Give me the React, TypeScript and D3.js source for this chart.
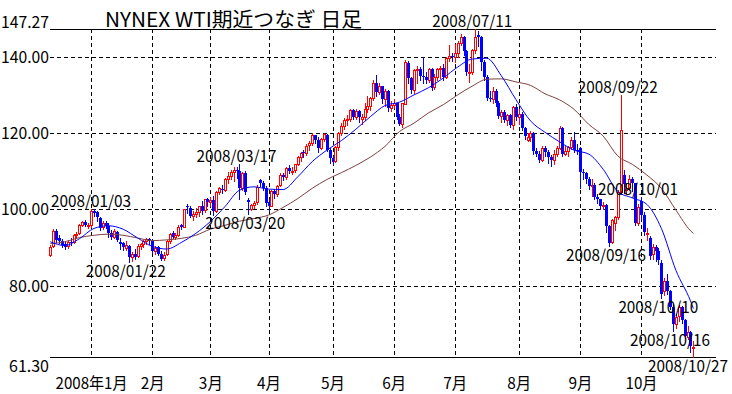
import * as d3 from "d3";

type Ohlc = [number, number, number, number]; // open, high, low, close

const WIDTH = 732;
const HEIGHT = 394;
const PLOT = { left: 50, right: 716, top: 29, bottom: 357 };
const FONT = "'Noto Sans CJK JP', 'DejaVu Sans', sans-serif";

const TITLE = "NYNEX WTI期近つなぎ 日足";
const Y_MAX = 147.27;
const Y_MIN = 61.3;
const Y_TICKS = [140, 120, 100, 80];

// daily candles, Dec 2007 .. Oct 2008
const dec07: Ohlc[] = [
  [88.0, 90.6, 87.7, 90.1], [90.5, 94.9, 90.2, 94.4], [94.3, 94.8, 91.4, 91.9], [92.4, 93.4, 91.2, 91.6],
  [91.8, 92.3, 90.2, 90.6], [90.9, 91.5, 89.6, 90.2], [90.3, 91.9, 89.9, 91.5], [91.5, 92.6, 90.6, 91.3],
  [91.4, 93.6, 91.2, 93.3], [93.2, 94.0, 92.6, 93.6], [93.8, 96.2, 93.5, 96.0], [96.0, 97.0, 95.6, 96.6],
  [96.7, 97.1, 95.6, 96.0], [95.8, 96.5, 95.0, 96.0],
];
const jan08: Ohlc[] = [
  [96.0, 100.0, 95.3, 99.6], [99.5, 100.09, 98.2, 99.0], [99.2, 99.6, 97.0, 97.9], [97.7, 98.0, 94.6, 95.1],
  [95.4, 97.0, 94.9, 96.3], [96.5, 97.0, 95.1, 95.7], [95.7, 96.4, 92.7, 93.7], [93.9, 94.6, 92.1, 92.7],
  [92.8, 94.8, 92.5, 94.2], [94.1, 94.4, 91.6, 91.9], [91.4, 92.4, 89.6, 90.8], [91.2, 91.5, 89.3, 90.1],
  [90.0, 91.7, 89.4, 90.6], [90.3, 90.6, 86.11, 87.4], [87.4, 88.9, 86.5, 88.2], [88.3, 89.5, 87.1, 87.6],
  [87.8, 90.8, 87.5, 90.5], [90.4, 91.2, 89.5, 90.9], [90.9, 92.0, 90.2, 91.6], [91.6, 92.6, 90.9, 92.3],
  [92.2, 92.6, 90.9, 91.7],
];
const feb08: Ohlc[] = [
  [91.6, 92.0, 88.5, 89.0], [89.2, 90.4, 88.4, 90.0], [90.1, 90.5, 88.0, 88.4], [88.4, 89.0, 86.8, 87.1],
  [87.2, 88.8, 86.8, 88.1], [88.2, 92.0, 88.0, 91.8], [91.8, 93.8, 91.2, 93.6], [93.7, 94.2, 92.5, 92.8],
  [92.8, 93.8, 92.2, 93.3], [93.3, 95.8, 93.0, 95.5], [95.9, 96.2, 94.8, 95.5], [95.5, 100.1, 95.3, 100.0],
  [100.9, 101.3, 99.0, 100.7], [100.4, 100.8, 97.9, 98.2], [98.3, 99.5, 97.2, 98.8], [98.8, 100.3, 98.0, 99.2],
  [99.2, 101.0, 98.2, 100.9], [101.0, 102.1, 98.8, 99.6], [99.7, 102.8, 99.4, 102.6], [102.6, 103.1, 101.0, 101.8],
];
const mar08: Ohlc[] = [
  [101.8, 103.2, 101.0, 102.5], [102.5, 103.6, 98.6, 99.5], [99.6, 104.7, 99.2, 104.5], [104.5, 105.9, 104.0, 105.5],
  [105.4, 106.5, 104.3, 105.2], [105.2, 108.2, 104.8, 107.9], [107.9, 109.7, 106.8, 108.8], [108.8, 110.2, 107.9, 109.9],
  [109.9, 111.0, 107.5, 110.3], [110.3, 111.1, 108.3, 110.2], [110.0, 111.8, 102.6, 105.7], [105.7, 109.7, 105.0, 109.4],
  [109.4, 110.0, 104.1, 104.5], [102.4, 103.0, 98.65, 101.8], [100.0, 101.5, 99.7, 101.2], [101.2, 102.3, 100.4, 101.6],
  [101.8, 106.3, 101.5, 105.9], [107.8, 108.0, 106.0, 107.0], [107.0, 107.4, 105.0, 105.6], [105.6, 106.2, 101.0, 101.6],
];
const apr08: Ohlc[] = [
  [101.8, 102.6, 99.6, 101.0], [101.0, 105.0, 100.8, 104.8], [104.8, 105.4, 103.0, 103.9], [103.9, 106.5, 103.6, 106.2],
  [106.3, 109.4, 106.0, 109.1], [109.1, 109.6, 107.6, 108.5], [108.6, 111.0, 108.0, 110.9], [110.9, 111.5, 109.6, 110.1],
  [109.8, 111.0, 109.2, 110.1], [110.2, 112.0, 109.8, 111.8], [111.9, 114.0, 111.5, 113.8], [113.8, 115.1, 112.8, 114.9],
  [115.0, 115.5, 113.6, 114.9], [114.9, 117.0, 114.2, 116.7], [116.8, 117.8, 115.5, 117.5], [117.4, 119.9, 116.8, 119.4],
  [119.4, 119.6, 117.4, 118.3], [118.2, 119.0, 115.0, 116.1], [116.1, 118.8, 115.8, 118.5], [118.5, 119.9, 117.9, 119.8],
  [119.6, 119.7, 115.4, 115.6], [115.6, 116.2, 112.1, 113.5],
];
const may08: Ohlc[] = [
  [113.4, 114.0, 111.8, 112.5], [112.6, 116.6, 112.4, 116.3], [116.3, 120.2, 115.5, 120.0], [120.0, 122.7, 119.6, 121.8],
  [121.9, 123.9, 121.0, 123.5], [123.5, 124.6, 122.0, 123.7], [123.8, 126.2, 123.1, 126.0], [126.0, 126.4, 123.6, 124.2],
  [124.2, 126.4, 123.8, 125.8], [125.8, 126.0, 123.0, 124.1], [123.8, 125.0, 122.5, 124.1], [124.2, 127.8, 123.5, 126.3],
  [126.3, 129.6, 125.5, 127.1], [127.1, 129.5, 126.0, 129.1], [129.1, 133.8, 128.6, 133.2], [133.2, 135.09, 129.6, 130.8],
  [130.8, 133.0, 130.2, 132.2], [132.2, 132.4, 127.8, 128.9], [128.9, 131.5, 127.0, 131.0], [131.0, 131.3, 125.8, 126.6],
  [126.6, 128.3, 125.9, 127.4],
];
const jun08: Ohlc[] = [
  [127.4, 129.0, 126.5, 127.8], [127.8, 128.0, 123.6, 124.3], [124.3, 125.0, 122.0, 122.3], [122.3, 128.0, 121.5, 127.8],
  [127.6, 139.1, 127.5, 138.5], [138.4, 139.0, 133.2, 134.4], [134.4, 134.8, 130.6, 131.3], [131.3, 136.8, 130.5, 136.4],
  [136.4, 137.6, 133.0, 136.7], [136.8, 137.2, 133.9, 134.9], [134.9, 139.9, 133.0, 134.6], [134.6, 136.0, 133.0, 134.0],
  [134.0, 137.0, 133.5, 136.7], [136.7, 137.0, 131.2, 131.9], [132.0, 135.5, 131.5, 134.6], [134.6, 137.0, 134.0, 136.7],
  [136.8, 137.5, 134.5, 137.0], [137.0, 138.0, 134.0, 134.6], [134.6, 140.0, 134.4, 139.6], [139.7, 142.99, 139.0, 140.2],
  [140.3, 141.0, 139.0, 140.0],
];
const jul08: Ohlc[] = [
  [140.0, 143.3, 138.6, 141.0], [141.0, 144.0, 140.0, 143.6], [143.6, 145.85, 143.0, 145.3], [145.3, 145.5, 140.5, 141.4],
  [141.4, 141.8, 135.1, 136.0], [136.0, 138.0, 133.5, 136.1], [136.1, 142.0, 135.5, 141.7], [141.7, 147.27, 141.0, 145.1],
  [145.6, 146.7, 142.9, 145.2], [145.2, 145.5, 136.5, 138.7], [138.7, 139.1, 133.8, 134.6], [134.6, 135.3, 128.6, 129.3],
  [129.3, 131.0, 128.3, 128.9], [128.9, 132.0, 128.0, 131.0], [131.0, 131.5, 127.0, 128.0], [128.0, 128.4, 123.9, 124.4],
  [124.4, 126.0, 123.0, 125.5], [125.5, 126.0, 122.8, 123.3], [123.3, 125.0, 122.0, 124.7], [124.7, 125.0, 121.6, 122.2],
  [122.2, 127.0, 121.0, 126.8], [126.8, 127.7, 123.5, 124.1],
];
const aug08: Ohlc[] = [
  [124.1, 126.3, 122.5, 125.1], [125.1, 125.4, 120.9, 121.4], [121.4, 121.6, 118.5, 119.2], [118.2, 120.0, 117.9, 118.9],
  [119.0, 120.5, 117.8, 120.0], [120.0, 120.4, 114.6, 115.2], [115.2, 116.0, 113.9, 114.5], [114.5, 115.2, 112.4, 113.0],
  [113.0, 116.5, 112.8, 116.0], [116.0, 116.5, 114.0, 115.0], [115.0, 115.5, 112.2, 113.8], [113.8, 114.2, 111.3, 112.9],
  [112.9, 115.5, 112.0, 114.5], [114.5, 116.5, 114.0, 116.0], [116.0, 121.8, 115.8, 121.2], [121.2, 121.5, 114.0, 114.6],
  [114.6, 116.5, 114.2, 115.2], [115.2, 116.7, 114.0, 116.3], [116.3, 119.0, 115.8, 118.2], [118.2, 120.4, 115.0, 115.6],
  [115.6, 117.0, 114.5, 115.5],
];
const sep08: Ohlc[] = [
  [116.0, 116.3, 105.5, 109.7], [109.7, 110.7, 108.0, 109.4], [109.4, 109.8, 106.8, 107.9], [107.9, 108.5, 105.4, 106.2],
  [106.0, 108.0, 103.5, 106.3], [106.3, 106.8, 102.6, 103.3], [103.3, 104.0, 101.7, 102.6], [102.6, 102.8, 100.1, 100.9],
  [100.9, 101.8, 100.0, 101.2], [101.2, 101.4, 94.1, 95.7], [95.7, 96.0, 90.51, 91.2], [91.5, 97.5, 91.2, 97.2],
  [96.5, 98.3, 94.5, 97.9], [98.0, 105.0, 97.6, 104.6], [104.6, 130.0, 104.0, 120.9], [109.0, 110.2, 104.3, 106.6],
  [105.0, 106.8, 104.0, 105.7], [105.7, 109.0, 105.0, 108.0], [108.0, 108.4, 104.8, 106.9], [106.9, 107.0, 95.9, 96.4],
  [96.4, 101.4, 95.8, 100.6],
];
const oct08: Ohlc[] = [
  [102.2, 103.2, 97.6, 98.5], [98.5, 99.3, 93.3, 94.0], [93.6, 95.1, 91.9, 93.9], [92.6, 92.9, 87.0, 87.8],
  [88.4, 91.0, 87.0, 90.1], [90.1, 90.6, 86.4, 89.0], [89.0, 90.0, 85.8, 86.6], [86.0, 86.6, 76.8, 77.7],
  [78.5, 82.0, 77.5, 81.2], [81.2, 83.0, 77.8, 78.6], [78.6, 78.9, 73.8, 74.5], [74.5, 75.3, 68.1, 69.9],
  [70.0, 72.5, 68.8, 71.9], [72.0, 75.0, 70.8, 74.3], [74.3, 74.6, 70.3, 70.9], [70.9, 71.2, 66.3, 66.8],
  [66.6, 69.3, 66.0, 67.8], [67.8, 68.0, 62.5, 64.2], [63.9, 65.6, 61.3, 64.0],
];

const MONTHS: { label: string; days: Ohlc[] }[] = [
  { label: "", days: dec07 },
  { label: "2008年1月", days: jan08 },
  { label: "2月", days: feb08 },
  { label: "3月", days: mar08 },
  { label: "4月", days: apr08 },
  { label: "5月", days: may08 },
  { label: "6月", days: jun08 },
  { label: "7月", days: jul08 },
  { label: "8月", days: aug08 },
  { label: "9月", days: sep08 },
  { label: "10月", days: oct08 },
];

const maSampleIdx = [
  0, 5, 10, 15, 20, 25, 30, 35, 40, 45, 50, 55, 60, 65, 70, 75, 80, 85, 90, 95, 100, 105, 110,
  115, 120, 125, 130, 135, 140, 145, 150, 155, 160, 165, 170, 175, 180, 185, 190, 195, 200, 205,
  210, 215, 220, 221,
];
const maShort = [
  91.5, 90.5, 92.3, 95.0, 95.7, 94.8, 92.5, 90.3, 89.6, 91.3, 93.7, 96.8, 100.7, 105.0, 105.9, 105.3,
  105.2, 108.5, 112.5, 115.5, 118.0, 121.0, 124.3, 127.2, 128.1, 130.0, 131.9, 134.4, 137.3, 139.4,
  139.6, 135.0, 128.8, 123.2, 120.2, 117.7, 115.5, 114.5, 110.5, 104.7, 103.0, 101.3, 95.0, 84.0,
  76.0, 74.0,
];
const maLong = [
  91.0, 91.5, 92.6, 93.2, 93.5, 93.2, 92.5, 91.8, 92.0, 92.4, 93.2, 94.8, 95.8, 96.9, 97.6, 98.5,
  100.5, 102.8, 105.5, 107.8, 109.6, 111.5, 113.7, 116.5, 120.4, 122.6, 125.3, 127.4, 130.0, 132.3,
  134.1, 134.2, 133.4, 132.5, 130.3, 128.7, 126.2, 122.3, 119.2, 114.0, 111.8, 109.0, 105.5, 99.8,
  94.4, 93.7,
];

const ANNOTATIONS: { idx: number; text: string; kind: "high" | "low" }[] = [
  { idx: 15, text: "2008/01/03", kind: "high" },
  { idx: 27, text: "2008/01/22", kind: "low" },
  { idx: 65, text: "2008/03/17", kind: "high" },
  { idx: 68, text: "2008/03/20", kind: "low" },
  { idx: 146, text: "2008/07/11", kind: "high" },
  { idx: 192, text: "2008/09/16", kind: "low" },
  { idx: 196, text: "2008/09/22", kind: "high" },
  { idx: 203, text: "2008/10/01", kind: "high" },
  { idx: 210, text: "2008/10/10", kind: "low" },
  { idx: 214, text: "2008/10/16", kind: "low" },
  { idx: 221, text: "2008/10/27", kind: "low" },
];

// gothic-style widths: half-width 8px, full-width 16px
const textWidth = (s: string) =>
  Array.from(s).reduce((w, ch) => w + (ch.charCodeAt(0) > 255 ? 16 : 8), 0);

export default function App() {
  const candles = MONTHS.flatMap((m) => m.days);
  const monthStarts: { idx: number; label: string }[] = [];
  let acc = 0;
  MONTHS.forEach((m) => {
    if (m.label) monthStarts.push({ idx: acc, label: m.label });
    acc += m.days.length;
  });
  const last = candles.length - 1;

  const x = d3.scaleLinear().domain([0, last]).range([50.3, 693.4]);
  const y = d3.scaleLinear().domain([Y_MIN, Y_MAX]).range([PLOT.bottom, PLOT.top]);

  const maLine = (vals: number[]) =>
    d3
      .line<number>()
      .x((_, i) => x(maSampleIdx[i]))
      .y((v) => y(v))
      .curve(d3.curveMonotoneX)(vals) ?? "";

  const label = (text: string, props: Record<string, unknown>) => (
    <text
      fontFamily={FONT}
      fontSize={16}
      fill="#000"
      textLength={textWidth(text)}
      lengthAdjust="spacingAndGlyphs"
      {...props}
    >
      {text}
    </text>
  );

  return (
    <svg
      width={WIDTH}
      height={HEIGHT}
      viewBox={`0 0 ${WIDTH} ${HEIGHT}`}
      style={{ position: "absolute", left: 0, top: 0, background: "#fff" }}
    >
      <rect width={WIDTH} height={HEIGHT} fill="#fff" />

      {/* grid */}
      <g stroke="#000" strokeWidth={1} strokeDasharray="4,3" shapeRendering="crispEdges">
        {Y_TICKS.map((t) => (
          <line key={t} x1={PLOT.left} x2={PLOT.right} y1={Math.round(y(t)) + 0.5} y2={Math.round(y(t)) + 0.5} />
        ))}
        {monthStarts.map((m) => (
          <line
            key={m.label}
            x1={Math.round(x(m.idx)) + 0.5}
            x2={Math.round(x(m.idx)) + 0.5}
            y1={PLOT.top}
            y2={PLOT.bottom}
          />
        ))}
      </g>
      <g stroke="#000" strokeWidth={1} shapeRendering="crispEdges">
        <line x1={PLOT.left} x2={PLOT.right} y1={Math.round(y(Y_MAX)) + 0.5} y2={Math.round(y(Y_MAX)) + 0.5} />
        <line x1={PLOT.left} x2={PLOT.right} y1={Math.round(y(Y_MIN)) + 0.5} y2={Math.round(y(Y_MIN)) + 0.5} />
      </g>

      {/* candles */}
      <g shapeRendering="crispEdges">
        {candles.map(([o, h, l, c], i) => {
          const cx = Math.round(x(i));
          const up = c >= o;
          const color = up ? "#ff0000" : "#0000ff";
          const top = Math.round(y(Math.max(o, c)));
          const bot = Math.round(y(Math.min(o, c)));
          return (
            <g key={i}>
              <line
                x1={cx + 0.5}
                x2={cx + 0.5}
                y1={Math.round(y(h))}
                y2={Math.round(y(l)) + 1}
                stroke={color}
                strokeWidth={1}
              />
              {up ? (
                <rect
                  x={cx - 0.5}
                  y={top + 0.5}
                  width={2}
                  height={Math.max(bot - top, 1)}
                  fill="#fff"
                  stroke={color}
                  strokeWidth={1}
                />
              ) : (
                <rect x={cx - 1} y={top} width={3} height={Math.max(bot - top, 1)} fill={color} />
              )}
            </g>
          );
        })}
      </g>

      {/* moving averages */}
      <path d={maLine(maLong)} fill="none" stroke="#804040" strokeWidth={1} />
      <path d={maLine(maShort)} fill="none" stroke="#0000ff" strokeWidth={1} />

      {/* peak / trough labels */}
      {ANNOTATIONS.map((a) => {
        const [, h, l] = candles[a.idx];
        const w = textWidth(a.text);
        const left = Math.min(x(a.idx) - 3 - w / 2, 728 - w);
        const base = a.kind === "high" ? y(h) - 2 : y(l) + 15;
        return <g key={a.text}>{label(a.text, { x: left, y: base })}</g>;
      })}

      {/* y axis labels */}
      {Y_TICKS.map((t) => (
        <g key={t}>{label(t.toFixed(2), { x: 49, y: y(t) + 6, textAnchor: "end" })}</g>
      ))}
      {label(Y_MAX.toFixed(2), { x: 49, y: y(Y_MAX) - 1, textAnchor: "end" })}
      {label(Y_MIN.toFixed(2), { x: 49, y: y(Y_MIN) + 15, textAnchor: "end" })}

      {/* month labels */}
      {monthStarts.map((m) => (
        <g key={m.label}>{label(m.label, { x: x(m.idx) + 0.5, y: 389, textAnchor: "middle" })}</g>
      ))}

      <text
        x={105}
        y={27}
        fontFamily={FONT}
        fontSize={20}
        textLength={257}
        lengthAdjust="spacingAndGlyphs"
        fill="#000"
      >
        {TITLE}
      </text>
    </svg>
  );
}
